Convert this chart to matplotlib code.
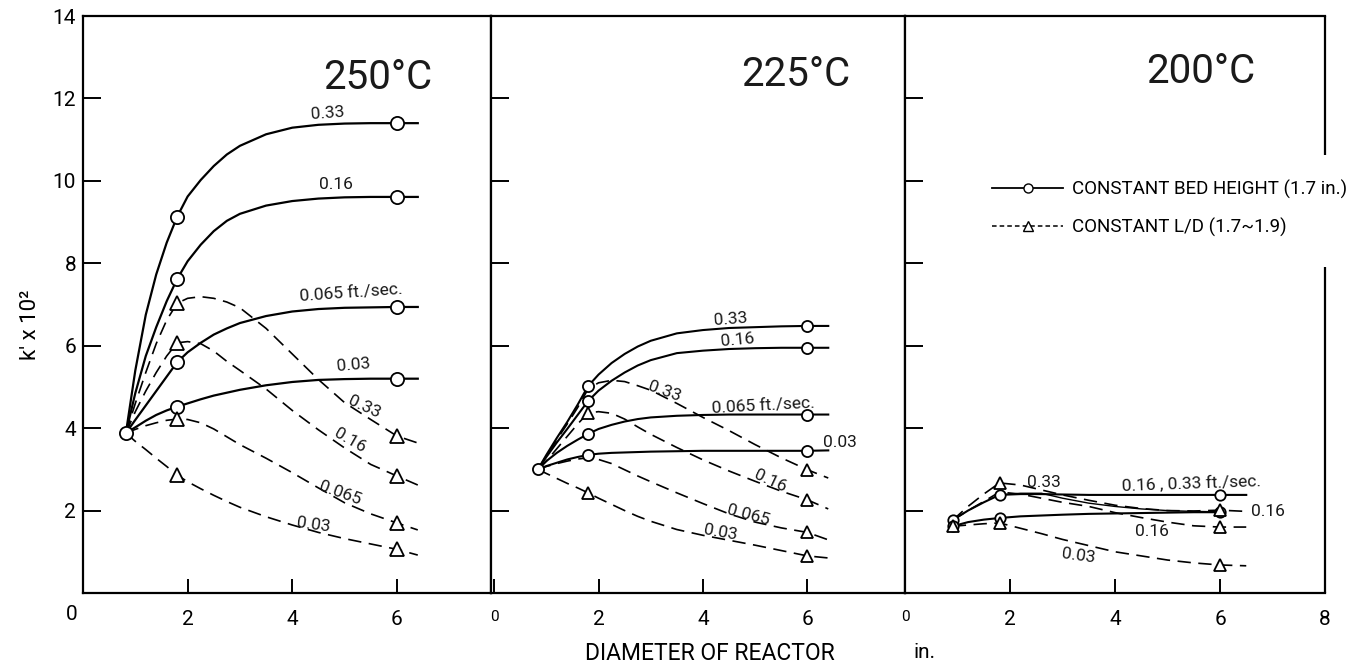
import matplotlib.pyplot as plt
import numpy as np

plt.rcParams['font.family'] = ['Roboto', 'DejaVu Sans']

nan = np.nan

# 250 C : k' x 10^2 against reactor diameter (in.)
x250 = [0.82, 1.0, 1.2, 1.4, 1.6, 1.8, 2.0, 2.25, 2.5, 2.75, 3.0, 3.5, 4.0, 4.5, 5.0, 5.5, 6.0, 6.4]
bed250_033 = [3.88, 5.40, 6.75, 7.73, 8.50, 9.13, 9.62, 10.02, 10.36, 10.64, 10.85, 11.13, 11.29, 11.36, 11.39, 11.40, 11.40, 11.40]
bed250_016 = [3.88, 4.85, 5.75, 6.45, 7.08, 7.62, 8.05, 8.45, 8.78, 9.03, 9.20, 9.40, 9.51, 9.57, 9.60, 9.61, 9.61, 9.61]
bed250_0065 = [3.88, 4.20, 4.55, 4.90, 5.25, 5.60, 5.84, 6.07, 6.27, 6.42, 6.55, 6.72, 6.83, 6.89, 6.92, 6.93, 6.94, 6.94]
bed250_003 = [3.88, 4.02, 4.18, 4.32, 4.43, 4.52, 4.60, 4.70, 4.79, 4.86, 4.93, 5.04, 5.12, 5.17, 5.19, 5.20, 5.20, 5.20]
ld250_033 = [3.88, 4.60, 5.35, 6.05, 6.62, 7.03, 7.15, 7.19, 7.15, 7.06, 6.92, 6.42, 5.80, 5.18, 4.62, 4.21, 3.81, 3.64]
ld250_016 = [3.88, 4.40, 4.90, 5.35, 5.75, 6.07, 6.10, 6.05, 5.87, 5.62, 5.40, 4.95, 4.43, 3.96, 3.52, 3.12, 2.84, 2.62]
ld250_0065 = [3.88, 3.97, 4.06, 4.13, 4.19, 4.22, 4.21, 4.13, 3.98, 3.79, 3.60, 3.27, 2.92, 2.55, 2.19, 1.92, 1.70, 1.53]
ld250_003 = [3.88, 3.68, 3.48, 3.27, 3.07, 2.86, 2.70, 2.53, 2.37, 2.22, 2.08, 1.85, 1.65, 1.47, 1.32, 1.19, 1.06, 0.92]

# 225 C
x225 = [0.84, 1.0, 1.2, 1.4, 1.6, 1.8, 2.0, 2.25, 2.5, 2.75, 3.0, 3.5, 4.0, 4.5, 5.0, 5.5, 6.0, 6.4]
bed225_033 = [3.0, 3.35, 3.76, 4.15, 4.57, 5.02, 5.30, 5.58, 5.80, 5.98, 6.12, 6.30, 6.38, 6.43, 6.45, 6.47, 6.48, 6.48]
bed225_016 = [3.0, 3.30, 3.65, 3.98, 4.32, 4.66, 4.91, 5.15, 5.35, 5.52, 5.65, 5.82, 5.88, 5.92, 5.94, 5.95, 5.95, 5.95]
bed225_0065 = [3.0, 3.20, 3.40, 3.57, 3.72, 3.86, 3.98, 4.08, 4.16, 4.22, 4.26, 4.30, 4.32, 4.33, 4.33, 4.33, 4.33, 4.33]
bed225_003 = [3.0, 3.08, 3.16, 3.24, 3.30, 3.35, 3.38, 3.40, 3.41, 3.42, 3.43, 3.44, 3.45, 3.45, 3.45, 3.45, 3.45, 3.46]
ld225_033 = [3.0, 3.33, 3.72, 4.10, 4.50, 4.95, 5.10, 5.16, 5.13, 5.03, 4.92, 4.60, 4.26, 3.94, 3.60, 3.28, 2.99, 2.79]
ld225_016 = [3.0, 3.20, 3.50, 3.80, 4.10, 4.37, 4.40, 4.36, 4.22, 4.03, 3.85, 3.53, 3.23, 2.96, 2.71, 2.47, 2.26, 2.04]
ld225_0065 = [3.0, 3.07, 3.14, 3.20, 3.25, 3.28, 3.24, 3.14, 2.99, 2.84, 2.70, 2.43, 2.17, 1.92, 1.72, 1.58, 1.47, 1.29]
ld225_003 = [3.0, 2.90, 2.78, 2.66, 2.55, 2.43, 2.30, 2.15, 2.00, 1.86, 1.74, 1.54, 1.40, 1.28, 1.16, 1.03, 0.90, 0.85]

# 200 C
x200 = [0.91, 1.2, 1.5, 1.8, 2.2, 2.6, 3.0, 3.5, 4.0, 4.5, 5.0, 5.5, 6.0, 6.5]
bed200_high = [1.77, 2.00, 2.20, 2.38, 2.40, 2.40, 2.39, 2.38, 2.38, 2.38, 2.38, 2.38, 2.38, 2.38]
bed200_bend = [nan, nan, nan, 2.38, 2.42, 2.42, 2.30, 2.18, 2.10, 2.04, 2.00, 1.98, 1.97, nan]
bed200_low = [1.62, 1.72, 1.78, 1.82, 1.86, 1.88, 1.90, 1.92, 1.93, 1.94, 1.95, 1.96, 1.96, nan]
ld200_033 = [1.77, 2.10, 2.40, 2.67, 2.62, 2.50, 2.38, 2.25, 2.13, 2.05, 2.00, 1.99, 2.01, 1.98]
ld200_016 = [1.77, 2.00, 2.22, 2.45, 2.40, 2.30, 2.20, 2.10, 1.95, 1.83, 1.72, 1.63, 1.60, 1.60]
ld200_003 = [1.62, 1.65, 1.68, 1.70, 1.57, 1.44, 1.30, 1.15, 1.00, 0.90, 0.80, 0.73, 0.68, 0.66]

DASH = (0, (8, 4.5))


def curve(ax, xs, ys, dashed, marks, ms, lw=1.6):
    ax.plot(xs, ys, color='k', lw=lw if not dashed else 1.2,
            linestyle=DASH if dashed else '-', zorder=2)
    if marks:
        idx = [xs.index(m) for m in marks]
        ax.plot([xs[i] for i in idx], [ys[i] for i in idx], linestyle='none',
                marker='^' if dashed else 'o', ms=ms + (1 if dashed else 0),
                mfc='white', mec='k', mew=1.3, zorder=4)


fig = plt.figure(figsize=(13.6, 6.66), dpi=100)
b, h = 1 - 593 / 666, 577 / 666
ax1 = fig.add_axes([83 / 1360, b, 408 / 1360, h])
ax2 = fig.add_axes([491 / 1360, b, 414 / 1360, h])
ax3 = fig.add_axes([905 / 1360, b, 420 / 1360, h])

# 250 C panel
for ys, mk in [(bed250_033, [0.82, 1.8, 6.0]), (bed250_016, [1.8, 6.0]),
               (bed250_0065, [1.8, 6.0]), (bed250_003, [1.8, 6.0])]:
    curve(ax1, x250, ys, False, mk, 9.5)
for ys in [ld250_033, ld250_016, ld250_0065, ld250_003]:
    curve(ax1, x250, ys, True, [1.8, 6.0], 9.5)

# 225 C panel
for ys, mk in [(bed225_033, [0.84, 1.8, 6.0]), (bed225_016, [1.8, 6.0]),
               (bed225_0065, [1.8, 6.0]), (bed225_003, [1.8, 6.0])]:
    curve(ax2, x225, ys, False, mk, 8, lw=1.5)
for ys, mk in [(ld225_033, [6.0]), (ld225_016, [1.8, 6.0]),
               (ld225_0065, [6.0]), (ld225_003, [1.8, 6.0])]:
    curve(ax2, x225, ys, True, mk, 8)

# 200 C panel
curve(ax3, x200, bed200_high, False, [0.91, 1.8, 6.0], 7.5, lw=1.5)
curve(ax3, x200, bed200_bend, False, [], 7.5, lw=1.0)
curve(ax3, x200, bed200_low, False, [0.91, 1.8, 6.0], 7.5, lw=1.5)
curve(ax3, x200, ld200_033, True, [1.8, 6.0], 7.5)
curve(ax3, x200, ld200_016, True, [6.0], 7.5)
curve(ax3, x200, ld200_003, True, [0.91, 1.8, 6.0], 7.5)

lab = dict(fontsize=12.5, color='#1a1a1a', ha='center', va='center')
ax1.text(4.67, 11.64, '0.33', rotation=4, **lab)
ax1.text(4.84, 9.90, '0.16', **lab)
ax1.text(5.12, 7.27, '0.065 ft./sec.', rotation=4, **lab)
ax1.text(5.18, 5.52, '0.03', rotation=5, **lab)
ax1.text(5.37, 4.52, '0.33', rotation=-25, **lab)
ax1.text(5.10, 3.70, '0.16', rotation=-30, **lab)
ax1.text(4.92, 2.43, '0.065', rotation=-20, **lab)
ax1.text(4.40, 1.65, '0.03', rotation=-8, **lab)

ax2.text(4.52, 6.64, '0.33', rotation=4, **lab)
ax2.text(4.67, 6.14, '0.16', rotation=5, **lab)
ax2.text(3.26, 4.88, '0.33', rotation=-20, **lab)
ax2.text(5.15, 4.55, '0.065 ft./sec.', rotation=3, **lab)
ax2.text(6.62, 3.66, '0.03', **lab)
ax2.text(5.29, 2.72, '0.16', rotation=-25, **lab)
ax2.text(4.87, 1.89, '0.065', rotation=-15, **lab)
ax2.text(4.33, 1.46, '0.03', rotation=-10, **lab)

ax3.text(2.64, 2.68, '0.33', **lab)
ax3.text(5.45, 2.66, '0.16 , 0.33 ft./sec.', rotation=2, **lab)
ax3.text(6.92, 1.97, '0.16', **lab)
ax3.text(4.70, 1.50, '0.16', **lab)
ax3.text(3.30, 0.90, '0.03', rotation=-8, **lab)

title = dict(fontsize=29, color='#1a1a1a', ha='center', va='baseline')
ax1.text(5.64, 12.23, '250°C', **title)
ax2.text(5.77, 12.30, '225°C', **title)
ax3.text(5.63, 12.38, '200°C', **title)

for ax, xmax in [(ax1, 7.8), (ax2, 7.87), (ax3, 8.0)]:
    ax.set_ylim(0, 14)
    ax.set_xlim(-0.06 if ax is ax2 else 0, xmax)
    for sp in ax.spines.values():
        sp.set_linewidth(1.6)
    ax.tick_params(axis='y', direction='in', length=13, width=1.4, labelsize=15, pad=5)
    ax.tick_params(axis='x', direction='in', length=10, width=1.4, labelsize=15, pad=12)

ax1.set_yticks(range(2, 15, 2))
ax1.set_xticks([2, 4, 6])
ax1.annotate('0', xy=(0, 0), xytext=(-8, -9), textcoords='offset points',
             ha='center', va='top', fontsize=15, annotation_clip=False)

for ax in (ax2, ax3):
    ax.set_yticks(range(2, 13, 2))
    ax.set_yticklabels([])
ax2.set_xticks([0, 2, 4, 6])
ax3.set_xticks([0, 2, 4, 6, 8])
for ax in (ax2, ax3):
    ax.get_xticklabels()[0].set_fontsize(11)

# right border of the last panel stops around the key
ax3.spines['right'].set_visible(False)
for y0, y1 in [(0, 0.565), (0.759, 1)]:
    ax3.plot([1, 1], [y0, y1], transform=ax3.transAxes, color='k', lw=1.6,
             clip_on=False, solid_capstyle='butt')

handles = [plt.Line2D([], [], color='k', lw=1.3, marker='o', ms=6.5, mfc='white', mec='k'),
           plt.Line2D([], [], color='k', lw=1.1, linestyle=(0, (3, 2)), marker='^', ms=6.5,
                      mfc='white', mec='k')]
fig.legend(handles, ['CONSTANT BED HEIGHT (1.7 in.)', 'CONSTANT L/D (1.7~1.9)'],
           loc='center left', bbox_to_anchor=(975 / 1360, 1 - 208 / 666), frameon=False,
           fontsize=13.5, handlelength=3.8, handletextpad=0.5, labelspacing=1.0)

fig.text(30 / 1360, 1 - 325 / 666, "k' x 10²", rotation=90, ha='center', va='center', fontsize=16)
fig.text(710 / 1360, 1 - 653 / 666, 'DIAMETER OF REACTOR', ha='center', va='center', fontsize=16.5)
fig.text(925 / 1360, 1 - 653 / 666, 'in.', ha='center', va='center', fontsize=15)

fig.savefig('out.png', dpi=100, facecolor='white')
